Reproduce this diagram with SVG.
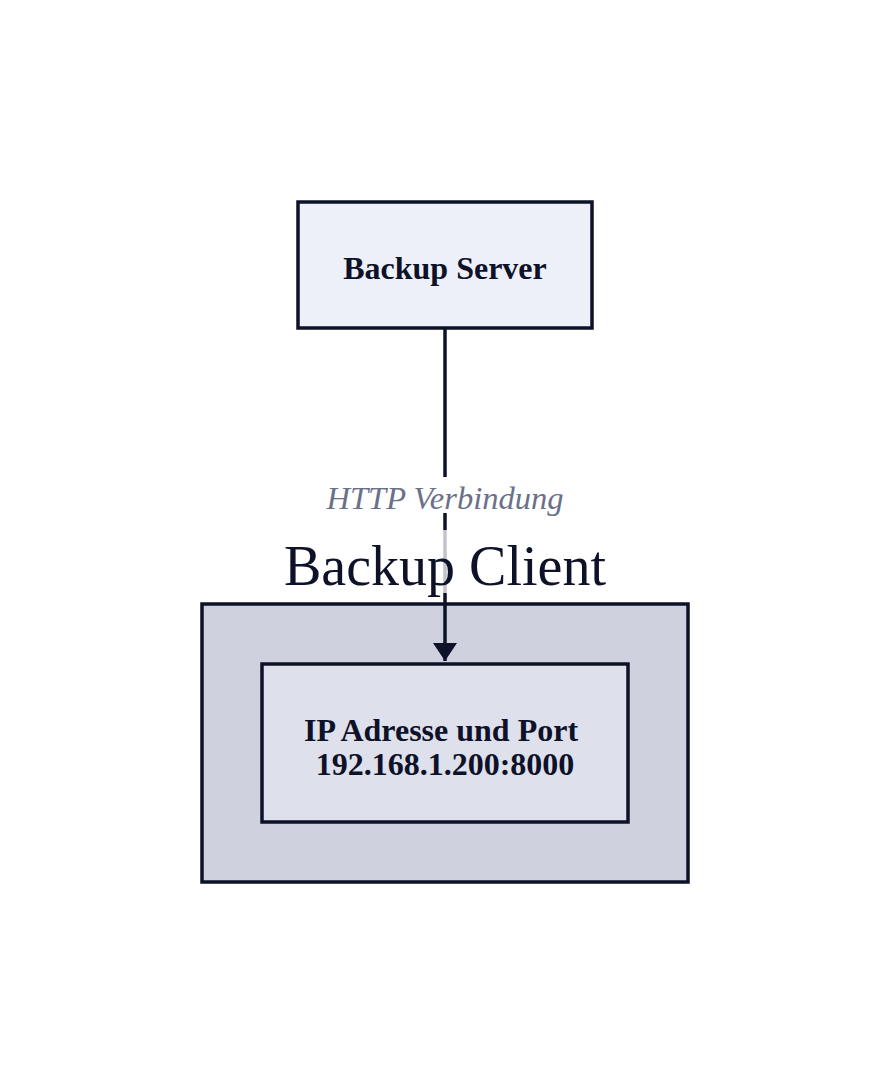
<svg xmlns="http://www.w3.org/2000/svg" width="890" height="1084" viewBox="0 0 890 1084">
<style>
.box{stroke:#0e1229;stroke-width:3.5}
.t{font-family:"Liberation Serif","Times New Roman",serif;fill:#0e1229;text-anchor:middle}
.b{font-weight:bold;font-size:32px}
</style>
<defs>
<marker id="ah" markerUnits="userSpaceOnUse" markerWidth="18" markerHeight="24" refX="18" refY="12" orient="auto" viewBox="0 0 18 24">
<path d="M0,0 L18,12 L0,24 Z" fill="#0e1229"/>
</marker>
</defs>
<rect width="890" height="1084" fill="#ffffff"/>
<g id="cluster-backup-client">
<rect class="box" x="202" y="604" width="486" height="278" fill="#cfd2de"/>
</g>
<g id="connectors">
<line x1="445" y1="328" x2="445" y2="661" stroke="#0e1229" stroke-width="3.5" marker-end="url(#ah)"/>
<rect x="320" y="477" width="250" height="36" fill="#ffffff"/>
<text class="t" x="445" y="509" font-size="32.5" font-style="italic" style="fill:#6b7089">HTTP Verbindung</text>
</g>
<g id="cluster-title">
<rect x="280" y="530" width="330" height="63" fill="#ffffff" fill-opacity="0.75"/>
<text class="t" x="445" y="585" font-size="56">Backup Client</text>
</g>
<g id="node-backup-server">
<rect class="box" x="298" y="202" width="294" height="126" fill="#edf0f8"/>
<text class="t b" x="445" y="279">Backup Server</text>
</g>
<g id="node-ip">
<rect class="box" x="262" y="664" width="366" height="158" fill="#dee0eb"/>
<text class="t b" x="441" y="741" font-size="32.3">IP Adresse und Port</text>
<text class="t b" x="445" y="775">192.168.1.200:8000</text>
</g>
</svg>
